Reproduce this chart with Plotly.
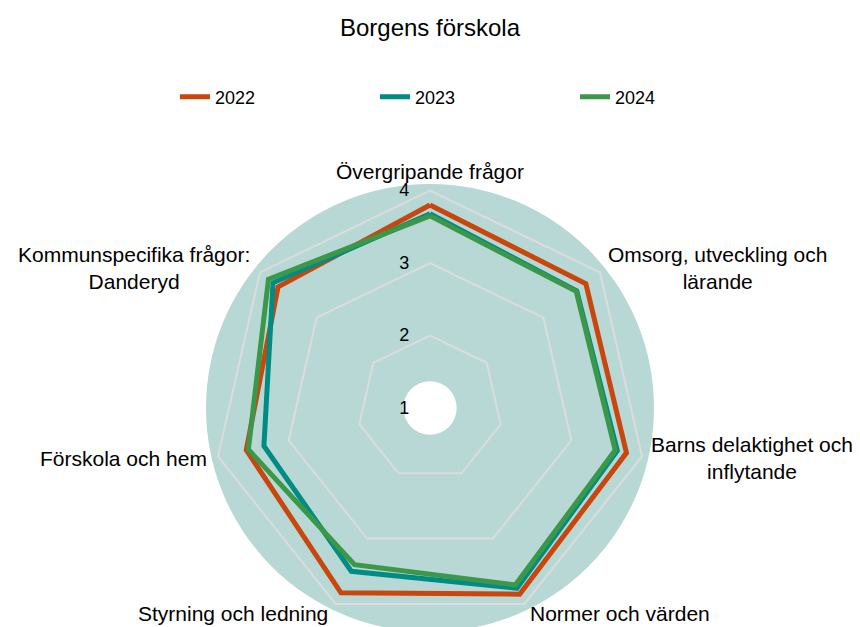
import math
import plotly.graph_objects as go

title = "Borgens förskola"
categories = [
    "Övergripande frågor",
    "Omsorg, utveckling och<br>lärande",
    "Barns delaktighet och<br>inflytande",
    "Normer och värden",
    "Styrning och ledning",
    "Förskola och hem",
    "Kommunspecifika frågor:<br>Danderyd",
]
years = ["2022", "2023", "2024"]
v2022 = [3.80, 3.75, 3.78, 3.85, 3.83, 3.60, 3.68]
v2023 = [3.68, 3.59, 3.65, 3.76, 3.50, 3.35, 3.77]
v2024 = [3.65, 3.58, 3.62, 3.71, 3.40, 3.57, 3.85]
radial_ticks = [1, 2, 3, 4]
colors = ["#c9460c", "#008b84", "#3a9848"]

FONT = "Liberation Sans, Arial, sans-serif"
W, H = 860, 627
OFF = 8  # page body margin shift

# polar geometry (pixels in figure coords)
CX, CY, R = 430 - OFF, 408 - OFF, 224
rng = [1, 4.09]
dom = dict(x=[(CX - R) / W, (CX + R) / W], y=[1 - (CY + R) / H, 1 - (CY - R) / H])

fig = go.Figure()

# background circle (circular polar with hole)
fig.add_trace(go.Scatterpolar(r=[None] * len(categories), theta=categories, subplot="polar",
                              showlegend=False, hoverinfo="skip", mode="lines"))

for name, vals, col in zip(years, [v2022, v2023, v2024], colors):
    fig.add_trace(go.Scatterpolar(
        r=vals + vals[:1], theta=categories + categories[:1], name=name,
        mode="lines", line=dict(color=col, width=5), subplot="polar2",
        hoverinfo="skip",
    ))

# category labels placed at the outer vertices
annotations = []
n = len(categories)
RL = R + 1
for k, cat in enumerate(categories):
    ang = math.radians(90 - k * 360 / n)
    px = CX + RL * math.cos(ang)
    py = CY - RL * math.sin(ang)
    c = math.cos(ang)
    s = math.sin(ang)
    if abs(c) < 0.05:
        xa, ya, xs, ys = "center", "bottom", 0, -2
    elif c > 0:
        xa, ya, xs, ys = "left", "middle", 0, 0
    else:
        xa, ya, xs, ys = "right", "middle", -2, 0
    if s < -0.5:
        ys = -3
    annotations.append(dict(
        text=cat, x=px / W, y=1 - py / H, xref="paper", yref="paper",
        xanchor=xa, yanchor=ya, xshift=xs, yshift=ys, showarrow=False, align="center",
        font=dict(size=21, family=FONT, color="#000000"),
    ))

fig.update_layout(
    width=W, height=H,
    margin=dict(l=0, r=0, t=0, b=0),
    paper_bgcolor="white",
    font=dict(family=FONT, color="#000000"),
    title=dict(text=title, x=(430 - OFF) / W, xanchor="center", y=1 - (28 - OFF) / H, yanchor="middle",
               font=dict(size=24, family=FONT, color="#000000")),
    showlegend=True,
    legend=dict(orientation="h", x=(175 - OFF) / W, xanchor="left", y=1 - (97 - OFF) / H,
                yanchor="middle", entrywidth=155, entrywidthmode="pixels",
                font=dict(size=18, family=FONT), itemclick=False, itemdoubleclick=False),
    annotations=annotations,
    polar=dict(
        domain=dom, bgcolor="#b8d8d5", hole=26.7 / R, gridshape="circular",
        radialaxis=dict(range=rng, showgrid=False, showline=False, showticklabels=False, ticks=""),
        angularaxis=dict(showgrid=False, showline=False, showticklabels=False, ticks="",
                         direction="clockwise", rotation=90),
    ),
    polar2=dict(
        domain=dom, bgcolor="rgba(0,0,0,0)", gridshape="linear",
        radialaxis=dict(range=rng, tickvals=radial_ticks, showgrid=True, gridcolor="#dcdcdc",
                        gridwidth=2, showline=False, angle=90, side="counterclockwise",
                        tickangle=90, ticks="outside", ticklen=14, tickcolor="rgba(0,0,0,0)",
                        tickfont=dict(size=18, family=FONT, color="#000000")),
        angularaxis=dict(showgrid=False, showline=False, ticks="", showticklabels=False,
                         direction="clockwise", rotation=90),
    ),
)

fig.write_html("out.html")
